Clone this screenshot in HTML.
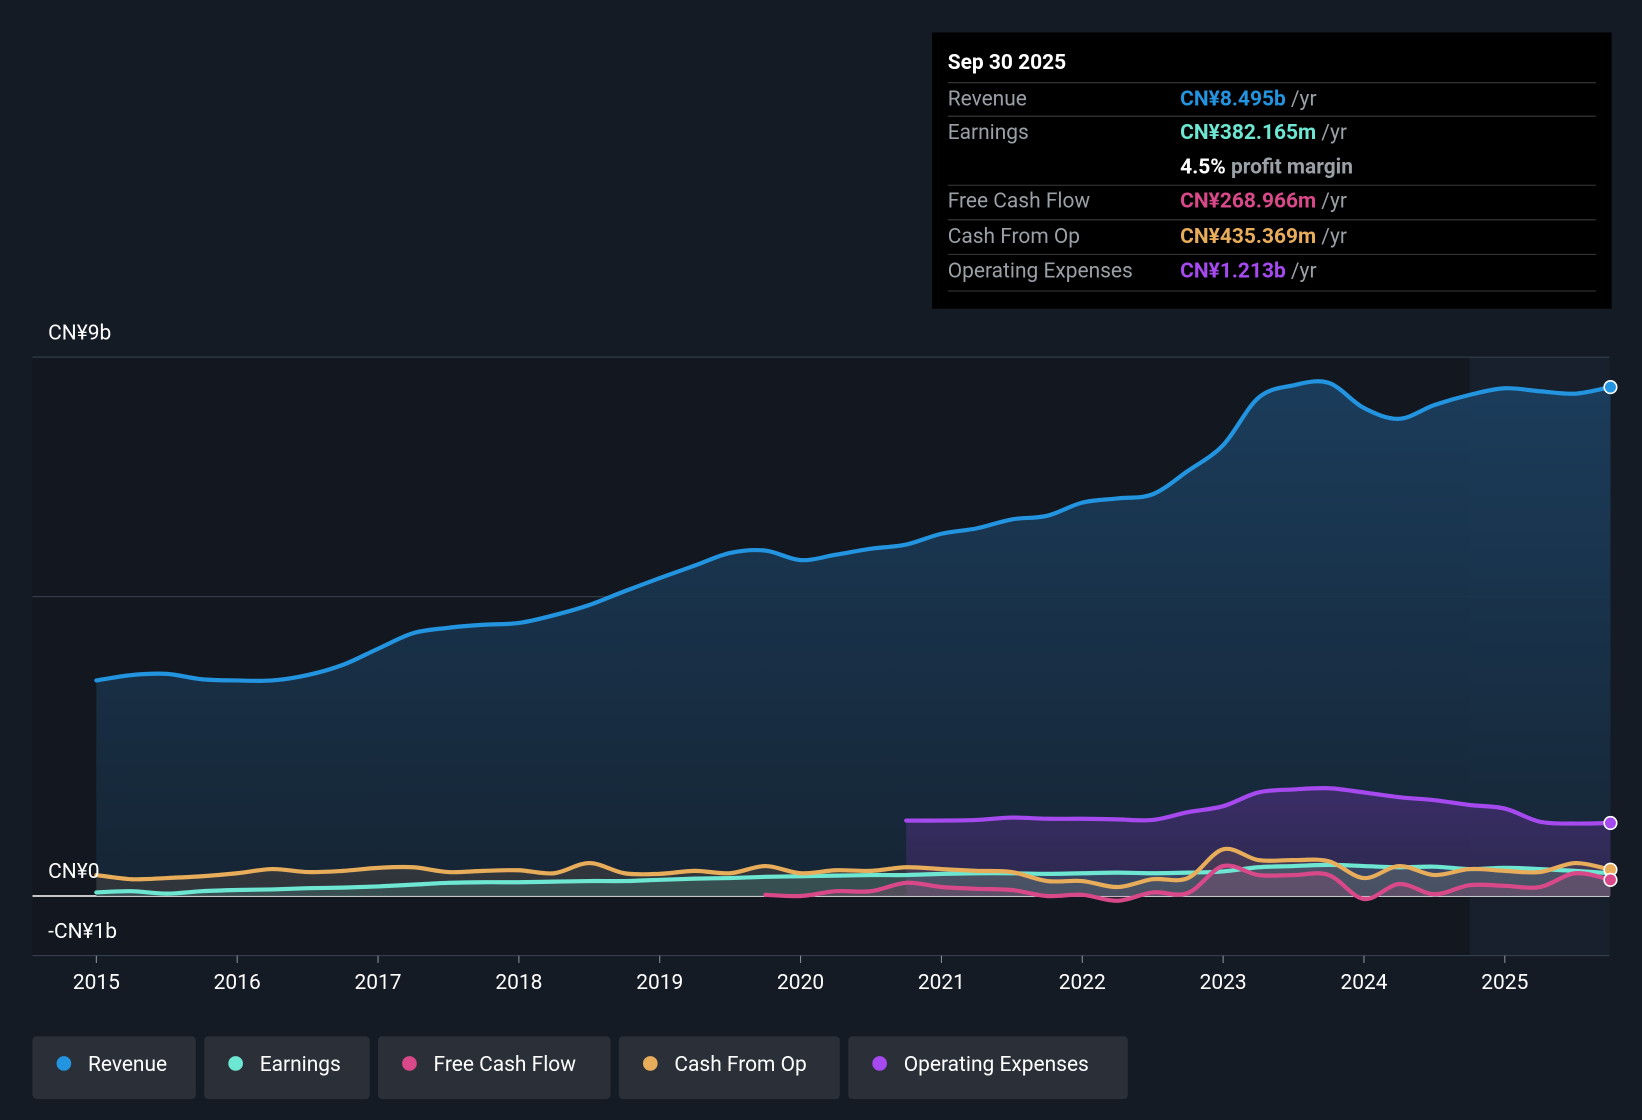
<!DOCTYPE html>
<html><head><meta charset="utf-8">
<style>
html,body{margin:0;padding:0;background:#151b24;width:1642px;height:1120px;overflow:hidden}
svg{display:block;font-family:"Roboto","Liberation Sans",sans-serif}
</style></head>
<body>
<svg id="chart" width="1642" height="1120" viewBox="0 0 1568 1070" preserveAspectRatio="none" xmlns="http://www.w3.org/2000/svg">
<defs>
<linearGradient id="revg" x1="0" y1="0" x2="0" y2="1"><stop offset="0" stop-color="#1b3e5e" stop-opacity="0.95"/><stop offset="1" stop-color="#162636" stop-opacity="0.9"/></linearGradient>
<linearGradient id="opg" x1="0" y1="0" x2="0" y2="1"><stop offset="0" stop-color="#4a2f7a" stop-opacity="0.7"/><stop offset="1" stop-color="#3a2c5e" stop-opacity="0.6"/></linearGradient>
</defs>
<rect x="0" y="0" width="1568" height="1070" fill="#151b24"/>
<g id="plot"></g>
<g id="tooltip" font-size="20">
<rect x="890" y="31" width="649" height="264" fill="#000"/>
<text x="905" y="66" fill="#fff" font-weight="bold">Sep 30 2025</text>
<line x1="905" y1="79" x2="1524" y2="79" stroke="#3a3a3a"/>
<text x="905" y="101" fill="#9aa0a6">Revenue</text>
<text x="1127" y="101" font-weight="bold" fill="#2394df">CN¥8.495b <tspan fill="#9aa0a6" font-weight="normal">/yr</tspan></text>
<line x1="905" y1="111" x2="1524" y2="111" stroke="#3a3a3a"/>
<text x="905" y="133" fill="#9aa0a6">Earnings</text>
<text x="1127" y="133" font-weight="bold" fill="#6ee7d2">CN¥382.165m <tspan fill="#9aa0a6" font-weight="normal">/yr</tspan></text>
<text x="1127" y="166" font-weight="bold" fill="#fff">4.5% <tspan fill="#9aa0a6">profit margin</tspan></text>
<line x1="905" y1="177" x2="1524" y2="177" stroke="#3a3a3a"/>
<text x="905" y="198" fill="#9aa0a6">Free Cash Flow</text>
<text x="1127" y="198" font-weight="bold" fill="#d9498a">CN¥268.966m <tspan fill="#9aa0a6" font-weight="normal">/yr</tspan></text>
<line x1="905" y1="210" x2="1524" y2="210" stroke="#3a3a3a"/>
<text x="905" y="232" fill="#9aa0a6">Cash From Op</text>
<text x="1127" y="232" font-weight="bold" fill="#e8ad5a">CN¥435.369m <tspan fill="#9aa0a6" font-weight="normal">/yr</tspan></text>
<line x1="905" y1="243" x2="1524" y2="243" stroke="#3a3a3a"/>
<text x="905" y="265" fill="#9aa0a6">Operating Expenses</text>
<text x="1127" y="265" font-weight="bold" fill="#a64af0">CN¥1.213b <tspan fill="#9aa0a6" font-weight="normal">/yr</tspan></text>
<line x1="905" y1="278" x2="1524" y2="278" stroke="#3a3a3a"/>
</g>
<g id="legend"></g>
</svg>
<script>
const dates=[2015,2015.25,2015.5,2015.75,2016,2016.25,2016.5,2016.75,2017,2017.25,2017.5,2017.75,2018,2018.25,2018.5,2018.75,2019,2019.25,2019.5,2019.75,2020,2020.25,2020.5,2020.75,2021,2021.25,2021.5,2021.75,2022,2022.25,2022.5,2022.75,2023,2023.25,2023.5,2023.75,2024,2024.25,2024.5,2024.75,2025,2025.25,2025.5,2025.75];
const revenue=[3.6,3.69,3.71,3.62,3.6,3.6,3.69,3.86,4.13,4.39,4.48,4.53,4.56,4.69,4.86,5.09,5.31,5.52,5.73,5.77,5.61,5.7,5.8,5.87,6.05,6.14,6.29,6.35,6.57,6.64,6.71,7.1,7.53,8.32,8.53,8.57,8.15,7.97,8.2,8.37,8.48,8.43,8.39,8.5];
const earnings=[0.06,0.08,0.04,0.08,0.1,0.11,0.13,0.14,0.16,0.19,0.22,0.23,0.23,0.24,0.25,0.25,0.27,0.29,0.3,0.32,0.33,0.34,0.35,0.35,0.37,0.38,0.38,0.37,0.38,0.39,0.38,0.39,0.41,0.48,0.5,0.52,0.5,0.48,0.49,0.45,0.47,0.45,0.42,0.38];
const cashFromOp=[0.35,0.28,0.3,0.33,0.38,0.45,0.4,0.42,0.47,0.48,0.4,0.42,0.43,0.38,0.55,0.38,0.37,0.42,0.38,0.5,0.38,0.43,0.42,0.48,0.45,0.42,0.4,0.25,0.25,0.15,0.28,0.3,0.78,0.6,0.6,0.58,0.3,0.5,0.35,0.45,0.42,0.4,0.55,0.44];
const fcfDates=[2019.75,2020,2020.25,2020.5,2020.75,2021,2021.25,2021.5,2021.75,2022,2022.25,2022.5,2022.75,2023,2023.25,2023.5,2023.75,2024,2024.25,2024.5,2024.75,2025,2025.25,2025.5,2025.75];
const fcf=[0.02,0.0,0.08,0.08,0.22,0.15,0.12,0.1,0.0,0.02,-0.08,0.06,0.05,0.5,0.35,0.35,0.35,-0.05,0.2,0.03,0.18,0.17,0.15,0.38,0.27];
const opexDates=[2020.75,2021,2021.25,2021.5,2021.75,2022,2022.25,2022.5,2022.75,2023,2023.25,2023.5,2023.75,2024,2024.25,2024.5,2024.75,2025,2025.25,2025.5,2025.75];
const opex=[1.26,1.26,1.27,1.31,1.29,1.29,1.28,1.27,1.4,1.5,1.73,1.78,1.8,1.73,1.65,1.6,1.52,1.46,1.24,1.21,1.22];
const yTicks=[9,0,-1];
const yTickLabels=["CN¥9b","CN¥0","-CN¥1b"];
const yGrid=[9,5,0];
const xTicks=[2015,2016,2017,2018,2019,2020,2021,2022,2023,2024,2025];

const NS="http://www.w3.org/2000/svg";
const X=d=>92+(d-2015)*134.5;
const Y=v=>856-v*57.2;
const plot=document.getElementById('plot');
function mk(tag,attrs,parent){const e=document.createElementNS(NS,tag);for(const k in attrs)e.setAttribute(k,attrs[k]);(parent||plot).appendChild(e);return e;}
function pathD(xs,vs){const p=xs.map((d,i)=>[X(d),Y(vs[i])]);let s=`M${p[0][0]},${p[0][1]}`;for(let i=0;i<p.length-1;i++){const p0=p[i-1]||p[i],p1=p[i],p2=p[i+1],p3=p[i+2]||p2;const c1=[p1[0]+(p2[0]-p0[0])/6,p1[1]+(p2[1]-p0[1])/6],c2=[p2[0]-(p3[0]-p1[0])/6,p2[1]-(p3[1]-p1[1])/6];s+=`C${c1[0]},${c1[1]} ${c2[0]},${c2[1]} ${p2[0]},${p2[1]}`;}return s;}
const bg=mk('rect',{x:31,y:341,width:1506,height:572,fill:'#131820'});

const hl=mk('rect',{x:X(2024.75),y:341,width:1537-X(2024.75),height:572,fill:'#1b2735',opacity:0.6});

yGrid.forEach(t=>{const g=mk('line',{x1:31,x2:1537,y1:Y(t),y2:Y(t),stroke:t===0?'#ffffff':'#3a4350','stroke-width':t===0?1.5:1});
});
function area(xs,vs,fill,name){const d=pathD(xs,vs)+`L${X(xs[xs.length-1])},${Y(0)}L${X(xs[0])},${Y(0)}Z`;const a=mk('path',{d,fill});}
function line(xs,vs,color,name,w){const l=mk('path',{d:pathD(xs,vs),fill:'none',stroke:color,'stroke-width':w||4,'stroke-linecap':'round','stroke-linejoin':'round'});}
area(dates,revenue,'url(#revg)','revenue-area');
area(opexDates,opex,'url(#opg)','opex-area');
area(dates,cashFromOp,'rgba(200,150,100,0.15)','cfo-area');
area(dates,earnings,'rgba(110,231,210,0.15)','earnings-area');
area(fcfDates,fcf,'rgba(217,73,138,0.15)','fcf-area');
line(dates,earnings,'#6ee7d2','earnings-line');
line(dates,cashFromOp,'#e8ad5a','cfo-line');
line(fcfDates,fcf,'#d9498a','fcf-line');
line(opexDates,opex,'#a64af0','opex-line');
line(dates,revenue,'#2394df','revenue-line');
[[revenue,dates,'#2394df'],[opex,opexDates,'#a64af0'],[cashFromOp,dates,'#e8ad5a'],[fcf,fcfDates,'#d9498a']].forEach(([v,d,c])=>{const e=mk('circle',{cx:X(d[d.length-1]),cy:Y(v[v.length-1]),r:6,fill:c,stroke:'#fff','stroke-width':1.5});
});
yTicks.forEach((t,i)=>{const tx=mk('text',{x:46,y:Y(t)-17,fill:'#fff','font-size':20});tx.textContent=yTickLabels[i];
});
const ax=mk('line',{x1:31,x2:1537,y1:913,y2:913,stroke:'#3a4350'});
xTicks.forEach(t=>{const tk=mk('line',{x1:X(t),x2:X(t),y1:913,y2:920,stroke:'#8a929c'});
const tx=mk('text',{x:X(t),y:945,fill:'#fff','font-size':20,'text-anchor':'middle'});tx.textContent=t;
});
const legendItems=[["Revenue","#2394df",31,156],["Earnings","#6ee7d2",195,158],["Free Cash Flow","#d9498a",361,222],["Cash From Op","#e8ad5a",591,211],["Operating Expenses","#a64af0",810,267]];
const lg=document.getElementById('legend');
legendItems.forEach(([n,c,x,w])=>{const g=mk('g',{},lg);
mk('rect',{x,y:990,width:w,height:60,rx:4,fill:'#2a2f38'},g);mk('circle',{cx:x+30,cy:1016,r:7,fill:c},g);
const t=mk('text',{x:x+53,y:1023,fill:'#fff','font-size':20},g);t.textContent=n;});
</script>
</body></html>
